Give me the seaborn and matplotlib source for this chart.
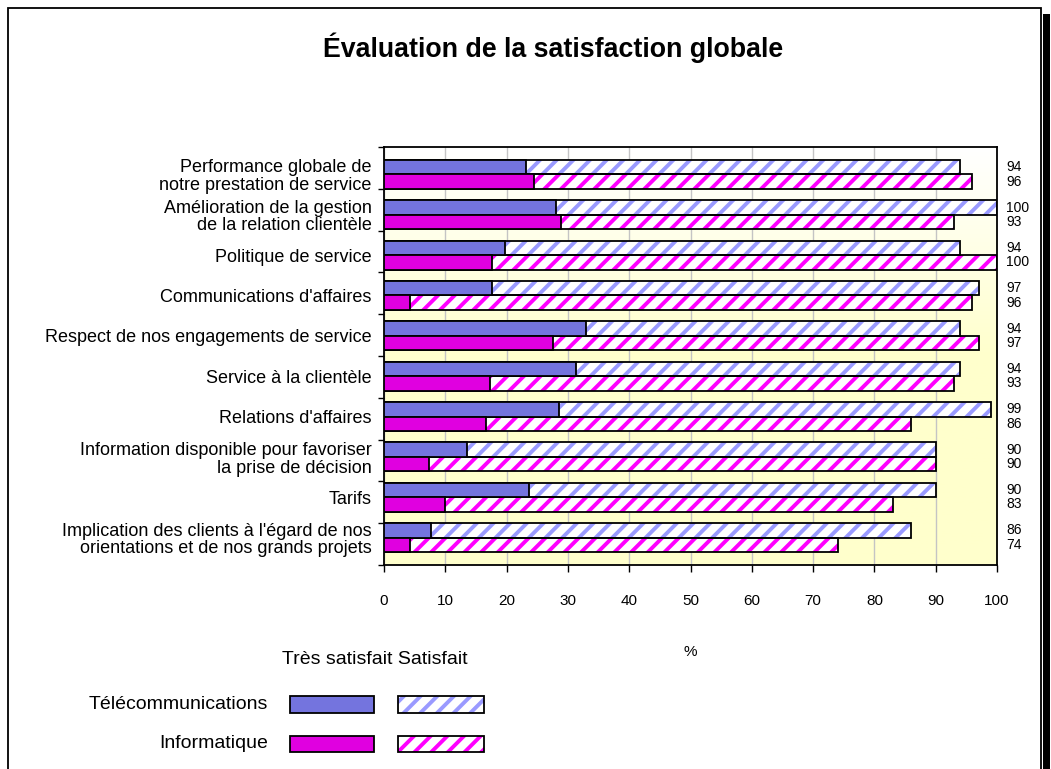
import numpy as np
import matplotlib
matplotlib.use("Agg")
import matplotlib.pyplot as plt
from matplotlib.patches import Rectangle
from matplotlib.colors import LinearSegmentedColormap
from matplotlib.transforms import blended_transform_factory
from matplotlib import font_manager
import seaborn as sns

# ---------------- data ----------------
categories = [
    "Performance globale de\nnotre prestation de service",
    "Amélioration de la gestion\nde la relation clientèle",
    "Politique de service",
    "Communications d'affaires",
    "Respect de nos engagements de service",
    "Service à la clientèle",
    "Relations d'affaires",
    "Information disponible pour favoriser\nla prise de décision",
    "Tarifs",
    "Implication des clients à l'égard de nos\norientations et de nos grands projets",
]
telecom_tres = [23.2, 28.0, 19.8, 17.6, 33.0, 31.3, 28.6, 13.5, 23.6, 7.7]
telecom_total = [94, 100, 94, 97, 94, 94, 99, 90, 90, 86]
info_tres = [24.4, 28.9, 17.6, 4.3, 27.6, 17.3, 16.6, 7.4, 9.9, 4.3]
info_total = [96, 93, 100, 96, 97, 93, 86, 90, 83, 74]
x_ticks = [0, 10, 20, 30, 40, 50, 60, 70, 80, 90, 100]

title = "Évaluation de la satisfaction globale"
series_names = ["Télécommunications", "Informatique"]
level_names = ["Très satisfait", "Satisfait"]

# ---------------- style ----------------
sns.set_theme(style="white")
plt.rcParams["font.family"] = ["Liberation Sans", "DejaVu Sans"]
plt.rcParams["text.color"] = "black"
plt.rcParams["hatch.linewidth"] = 2.8

installed = {f.name for f in font_manager.fontManager.ttflist}
narrow_ok = "Liberation Sans Narrow" in installed
NARROW = ["Liberation Sans Narrow", "Liberation Sans", "DejaVu Sans"] if narrow_ok else ["Liberation Sans", "DejaVu Sans"]
title_size = 22.5 if narrow_ok else 19.3

W, H = 1051, 769
fig = plt.figure(figsize=(W / 100, H / 100), dpi=100)
fig.patch.set_facecolor("white")

# outer frame with shadow
fig.add_artist(Rectangle((8 / W, -0.05), (1041 - 8) / W, 1 - 8 / H + 0.05,
                         transform=fig.transFigure, fill=False, ec="black", lw=1.3))
fig.add_artist(Rectangle((1043 / W, -0.05), 7 / W, 1 - 14 / H + 0.05,
                         transform=fig.transFigure, fc="black", ec="none"))

ax = fig.add_axes([384 / W, 1 - 565 / H, 613 / W, 418 / H])

blue_solid, blue_stripe = "#7474DE", "#9A9AFF"
mag_solid, mag_stripe = "#E000E0", "#FF00FF"

n = len(categories)
idx = np.arange(n)
off = 0.18
tel_pos = idx - off
info_pos = idx + off
YTOP, YBOT = -0.68, n - 1 + 0.68


def hatched_layer(pos, totals, stripe):
    k = len(ax.patches)
    sns.barplot(x=totals, y=pos, orient="h", native_scale=True, width=0.36,
                errorbar=None, saturation=1, color="white", ax=ax)
    for p in ax.patches[k:]:
        p.set_facecolor("white")
        p.set_edgecolor(stripe)
        p.set_hatch("//")
        p.set_linewidth(0)
        p.set_zorder(2)
        ax.add_patch(Rectangle(p.get_xy(), p.get_width(), p.get_height(),
                               fill=False, ec="black", lw=1.3, zorder=3))


def solid_layer(pos, vals, color):
    k = len(ax.patches)
    sns.barplot(x=vals, y=pos, orient="h", native_scale=True, width=0.36,
                errorbar=None, saturation=1, color=color, ax=ax)
    for p in ax.patches[k:]:
        p.set_facecolor(color)
        p.set_edgecolor("black")
        p.set_linewidth(1.3)
        p.set_zorder(4)


hatched_layer(tel_pos, telecom_total, blue_stripe)
hatched_layer(info_pos, info_total, mag_stripe)
solid_layer(tel_pos, telecom_tres, blue_solid)
solid_layer(info_pos, info_tres, mag_solid)

# background gradient of plot area
grad = np.clip(np.linspace(0, 1, 256) * 2.0, 0, 1).reshape(-1, 1)
bg = LinearSegmentedColormap.from_list("bg", ["#FFFFFF", "#FFFFCC"])
ax.imshow(grad, extent=(0, 100, YBOT, YTOP), origin="upper", aspect="auto",
          cmap=bg, vmin=0, vmax=1, zorder=0)

ax.set_xlim(0, 100)
ax.set_ylim(YBOT, YTOP)
ax.set_xlabel("")
ax.set_ylabel("")

# grid
ax.set_xticks(x_ticks)
ax.set_xticklabels([str(t) for t in x_ticks])
ax.xaxis.grid(True, color="#C4C4C4", lw=1)
ax.yaxis.grid(False)
ax.set_axisbelow("line")

# y labels
ax.set_yticks(idx)
ax.set_yticklabels(categories)
for t in ax.get_yticklabels():
    t.set_linespacing(1.05)
ax.set_yticks(np.linspace(YTOP, YBOT, n + 1), minor=True)
ax.tick_params(axis="y", which="major", length=0, pad=9, labelsize=13, labelcolor="black")
ax.tick_params(axis="y", which="minor", left=True, length=4, width=1, direction="out", color="black")
ax.tick_params(axis="x", which="major", bottom=True, length=5, width=1, direction="out",
               pad=16, labelsize=11, labelcolor="black", color="black")

for s in ax.spines.values():
    s.set_visible(True)
    s.set_color("black")
    s.set_linewidth(1.3)

# value labels on the right
tr = blended_transform_factory(ax.transAxes, ax.transData)
for i in range(n):
    ax.text(1.0147, tel_pos[i], f"{telecom_total[i]}", transform=tr, ha="left",
            va="center", fontsize=10, family=NARROW, color="black")
    ax.text(1.0147, info_pos[i], f"{info_total[i]}", transform=tr, ha="left",
            va="center", fontsize=10, family=NARROW, color="black")

# title and axis unit
fig.text(553.5 / W, 1 - 48 / H, title, ha="center", va="center", fontsize=title_size,
         fontweight="bold", family=NARROW, color="black")
fig.text(690 / W, 1 - 652 / H, "%", ha="center", va="center", fontsize=11, color="black")

# manual legend
fig.text(375 / W, 1 - 660 / H, " ".join(level_names), ha="center", va="center",
         fontsize=14, color="black")
rows_y = [(696, 713), (736, 752)]
cols_x = [(290, 374), (398, 484)]
solids = [blue_solid, mag_solid]
stripes = [blue_stripe, mag_stripe]
for r, name in enumerate(series_names):
    y0, y1 = rows_y[r]
    fig.text(268 / W, 1 - (y0 + y1) / 2 / H, name, ha="right", va="center",
             fontsize=14, color="black")
    xs0, xs1 = cols_x[0]
    fig.add_artist(Rectangle((xs0 / W, 1 - y1 / H), (xs1 - xs0) / W, (y1 - y0) / H,
                             transform=fig.transFigure, fc=solids[r], ec="black", lw=1.3))
    xh0, xh1 = cols_x[1]
    fig.add_artist(Rectangle((xh0 / W, 1 - y1 / H), (xh1 - xh0) / W, (y1 - y0) / H,
                             transform=fig.transFigure, fc="white", ec=stripes[r],
                             hatch="//", lw=0))
    fig.add_artist(Rectangle((xh0 / W, 1 - y1 / H), (xh1 - xh0) / W, (y1 - y0) / H,
                             transform=fig.transFigure, fill=False, ec="black", lw=1.3))

fig.savefig("out.png", dpi=100)
